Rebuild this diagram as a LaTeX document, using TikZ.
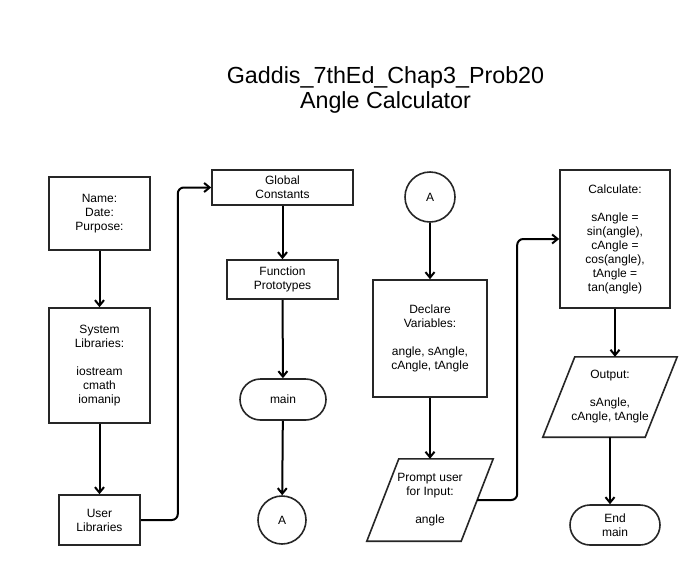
\documentclass[tikz,border=0pt]{standalone}
\usepackage{fontspec}
\setmainfont{Liberation Sans}
\usetikzlibrary{arrows.meta,shapes.misc,shapes.geometric}
\begin{document}
\begin{tikzpicture}[x=1pt,y=-1pt,
  lw/.style={line width=1.6pt},
  txt/.style={align=center, inner sep=0pt, text=black, font=\fontsize{12}{14}\selectfont},
  box/.style={txt, lw, draw=black!85},
  term/.style={box, rounded rectangle},
  conn/.style={box, circle, minimum size=#1},
  flow/.style={line width=2pt, draw=black, -{Straight Barb[length=5.5pt,width=9pt,line width=2pt]}},
  elbow/.style={flow, rounded corners=6pt},
  ttl/.style={inner sep=0pt, text=black, font=\fontsize{23.3}{26}\selectfont}
]
\fill[white] (0,0) rectangle (695,565);
\useasboundingbox (0,0) rectangle (695,565);

% title
\node[ttl, anchor=base] (t1) at (385.5,83) {Gaddis\_7thEd\_Chap3\_Prob20};
\node[ttl, anchor=base] (t2) at (385.5,108) {Angle Calculator};

% column 1
\node[box, minimum width=101pt, minimum height=73pt] (name) at (99.5,213.5) {Name:\\Date:\\Purpose:};
\node[box, minimum width=101pt, minimum height=115pt] (syslib) at (99.5,365.5) {System\\Libraries:\\[14pt]iostream\\cmath\\iomanip};
\node[box, minimum width=81pt, minimum height=50pt] (userlib) at (99.5,520) {User\\Libraries};

% column 2
\node[box, minimum width=141pt, minimum height=35pt] (global) at (282.5,187.5) {Global\\Constants};
\node[box, minimum width=111pt, minimum height=39pt] (func) at (282.5,279.5) {Function\\Prototypes};
\node[term, minimum width=86pt, minimum height=41pt] (main) at (283,399.5) {main};
\node[conn=48pt] (a1) at (282,520) {A};

% column 3
\node[conn=50pt] (a2) at (430,197) {A};
\node[box, minimum width=114pt, minimum height=117pt] (declare) at (430,338.5) {Declare\\Variables:\\[14pt]angle, sAngle,\\cAngle, tAngle};
\node[txt, minimum width=94pt, minimum height=82pt] (prompt) at (430,500) {Prompt user\\for Input:\\[14pt]angle};
\draw[lw, draw=black!85] ([xshift=16pt]prompt.north west) -- ([xshift=16pt]prompt.north east)
  -- ([xshift=-16pt]prompt.south east) -- ([xshift=-16pt]prompt.south west) -- cycle;

% column 4
\node[box, minimum width=110pt, minimum height=138pt] (calc) at (615,239) {Calculate:\\[14pt]sAngle =\\sin(angle),\\cAngle =\\cos(angle),\\tAngle =\\tan(angle)};
\node[txt, minimum width=102pt, minimum height=80pt] (output) at (610,397) {Output:\\[14pt]sAngle,\\cAngle, tAngle};
\draw[lw, draw=black!85] ([xshift=16pt]output.north west) -- ([xshift=16pt]output.north east)
  -- ([xshift=-16pt]output.south east) -- ([xshift=-16pt]output.south west) -- cycle;
\node[term, minimum width=90pt, minimum height=40pt] (endmain) at (615,525) {End\\main};

% connectors
\draw[flow] (name) -- (syslib);
\draw[flow] (syslib) -- (userlib);
\draw[elbow] (userlib.east) -- ++(37,0) |- (global.west);
\draw[flow] (global) -- (func);
\draw[flow] (func) -- (main);
\draw[flow] (main) -- (a1);
\draw[flow] (a2) -- (declare);
\draw[flow] (declare) -- (prompt.north);
\draw[elbow] (prompt.east) -- ++(40,0) |- (calc.west);
\draw[flow] (calc.south) -- (calc.south |- output.north);
\draw[flow] (output.south) -- (output.south |- endmain.north);
\end{tikzpicture}
\end{document}
